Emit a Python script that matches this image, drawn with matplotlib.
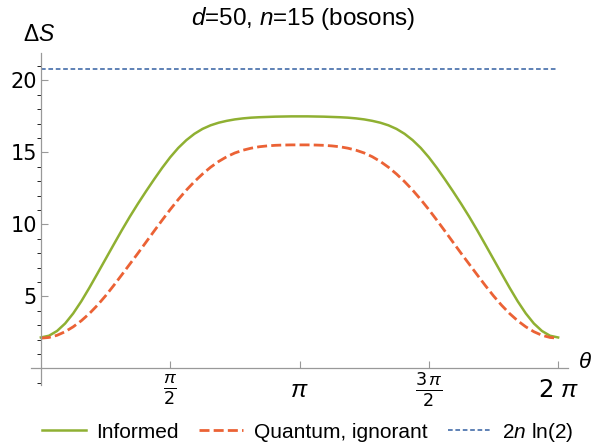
import numpy as np
import matplotlib
matplotlib.use("Agg")
import matplotlib.pyplot as plt
from matplotlib.ticker import MultipleLocator, FixedLocator

plt.rcParams['mathtext.fontset'] = 'custom'
plt.rcParams['mathtext.rm'] = 'Liberation Sans'
plt.rcParams['mathtext.it'] = 'Liberation Sans:italic'
plt.rcParams['mathtext.sf'] = 'DejaVu Sans'

# theta sampled at k*pi/32, k = 0..64
theta = np.arange(65) * np.pi / 32

informed_half = [2.15, 2.27, 2.60, 3.12, 3.82, 4.66, 5.60, 6.59, 7.59, 8.59, 9.58, 10.53,
                 11.43, 12.29, 13.12, 13.92, 14.66, 15.31, 15.85, 16.29, 16.63, 16.88, 17.06,
                 17.19, 17.29, 17.36, 17.41, 17.44, 17.46, 17.48, 17.49, 17.5, 17.5]
ignorant_half = [2.1, 2.15, 2.3, 2.55, 2.89, 3.31, 3.81, 4.39, 5.04, 5.75, 6.49, 7.24,
                 7.99, 8.76, 9.53, 10.29, 11.03, 11.73, 12.38, 12.97, 13.5, 13.97, 14.37,
                 14.7, 14.96, 15.15, 15.29, 15.39, 15.45, 15.49, 15.51, 15.52, 15.52]
# curves are symmetric about theta = pi
informed = informed_half + informed_half[-2::-1]
ignorant = ignorant_half + ignorant_half[-2::-1]
bound_x = [0, 2 * np.pi]
bound = 2 * 15 * np.log(2)

xtick_pos = [np.pi / 2, np.pi, 3 * np.pi / 2, 2 * np.pi]
xtick_lab = [r'$\frac{\pi}{\mathsf{2}}$', r'$\pi$',
             r'$\frac{\mathsf{3}\,\pi}{\mathsf{2}}$', r'$\mathsf{2}\ \pi$']

fig = plt.figure(figsize=(6.01, 4.44), dpi=100)
ax = fig.add_axes([31 / 601, 59 / 444, 537 / 601, 332 / 444])

ax.plot(theta, informed, color='#8FB032', lw=1.8, label='Informed')
ax.plot(theta, ignorant, color='#EB6235', lw=2.0, dashes=(3.6, 1.5), label='Quantum, ignorant')
ax.plot(bound_x, [bound, bound], color='#5E81B5', lw=1.4, dashes=(2.4, 1.4), label='$2n$ ln(2)')

ax.set_xlim(-0.12, 2 * np.pi + 0.12)
ax.set_ylim(-1.15, 21.9)

for s in ['top', 'right']:
    ax.spines[s].set_visible(False)
ax.spines['left'].set_position(('data', 0))
ax.spines['bottom'].set_position(('data', 0))
for s in ['left', 'bottom']:
    ax.spines[s].set_color('#999999')
    ax.spines[s].set_linewidth(0.9)

ax.xaxis.set_major_locator(FixedLocator(xtick_pos))
ax.set_xticklabels(xtick_lab)
ax.yaxis.set_major_locator(FixedLocator([5, 10, 15, 20]))
ax.yaxis.set_minor_locator(MultipleLocator(1))
ax.tick_params(direction='in', color='#999999', width=0.8)
ax.tick_params(axis='both', which='major', length=5)
ax.tick_params(axis='y', which='minor', length=3)
ax.tick_params(axis='y', labelsize=15, pad=3)
ax.tick_params(axis='x', labelsize=18, pad=15.5)
for i, lab in enumerate(ax.get_xticklabels()):
    lab.set_verticalalignment('center')
    if i in (1, 3):
        lab.set_fontsize(17.5)

fig.text(23 / 601, 1 - 41 / 444, r'$\Delta S$', fontsize=16.5, ha='left', va='baseline')
fig.text(578 / 601, 1 - 368 / 444, r'$\theta$', fontsize=16, ha='left', va='baseline')

fig.text(0.505, 0.958, '$d$=50, $n$=15 (bosons)', fontsize=17.5, ha='center', va='center',
         family='Liberation Sans')

fig.legend(loc='center', bbox_to_anchor=(0.512, 1 - 432 / 444), ncol=3, frameon=False,
           prop={'family': 'Liberation Sans', 'size': 15}, handlelength=2.1,
           columnspacing=1.0, handletextpad=0.5, borderpad=0)

fig.savefig('out.png', dpi=100)
